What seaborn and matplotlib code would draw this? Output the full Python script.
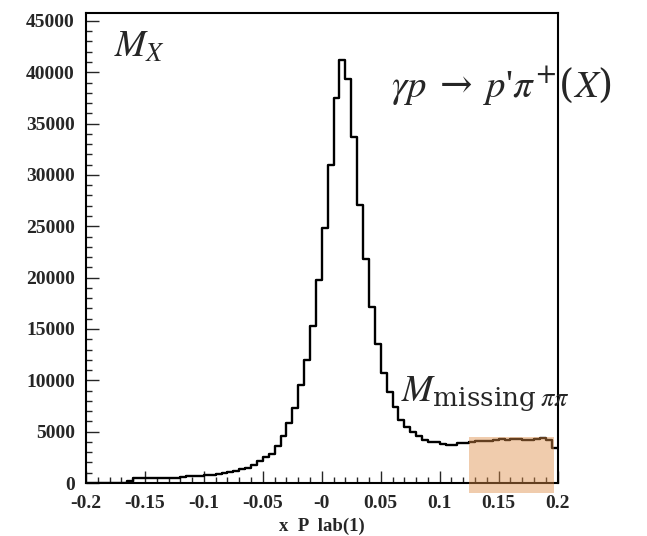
import numpy as np
import pandas as pd
import matplotlib
matplotlib.use("Agg")
import matplotlib.pyplot as plt
from matplotlib.ticker import FixedLocator, FixedFormatter, MultipleLocator
from matplotlib.patches import Rectangle
import seaborn as sns

# ---- data -------------------------------------------------------------
bin_width = 0.005
x_range = (-0.2, 0.2)
counts = [
    0, 0, 0, 0, 0, 0, 0, 150,
    470, 490, 500, 500, 510, 510, 520, 530, 540,
    640, 660, 730, 760, 790, 900, 940,
    1040, 1170, 1320, 1420, 1800, 2130, 2500, 2800,
    3640, 4610, 5850, 7280, 9540, 11950, 15320, 19800,
    24800, 31000, 37500, 41240, 39330, 33700, 27050, 21780,
    17130, 13520, 10690, 8900, 7380, 6140, 5490, 4940,
    4580, 4190, 3970, 3950, 3830, 3730, 3720, 3930,
    3940, 4000, 4050, 4070, 4130, 4140, 4260, 4200,
    4290, 4290, 4200, 4210, 4290, 4400, 4190, 3400,
]
x_ticks = [-0.2, -0.15, -0.1, -0.05, 0.0, 0.05, 0.1, 0.15, 0.2]
x_tick_labels = ["-0.2", "-0.15", "-0.1", "-0.05", "-0", "0.05", "0.1", "0.15", "0.2"]
y_ticks = [0, 5000, 10000, 15000, 20000, 25000, 30000, 35000, 40000, 45000]
y_tick_labels = [str(v) for v in y_ticks]
x_label = "x  P  lab(1)"
highlight_x = [0.125, 0.197]
highlight_y = [-1000, 4450]

n_bins = len(counts)
centers = x_range[0] + bin_width * (np.arange(n_bins) + 0.5)
df = pd.DataFrame({"x": centers, "w": np.asarray(counts, dtype=float)})

# ---- style ------------------------------------------------------------
sns.set_style("ticks")
plt.rcParams["mathtext.fontset"] = "custom"
plt.rcParams["mathtext.rm"] = "DejaVu Serif"
plt.rcParams["mathtext.it"] = "STIXGeneral:italic"
plt.rcParams["mathtext.bf"] = "STIXGeneral:bold"
plt.rcParams["mathtext.fallback"] = "stix"
plt.rcParams["font.family"] = ["Liberation Serif", "DejaVu Serif"]

fig = plt.figure(figsize=(6.47, 5.36), dpi=100)
ax = fig.add_axes([86 / 647, 1 - 483 / 536, (557.6 - 86) / 647, (483 - 12.7) / 536])

sns.histplot(data=df, x="x", weights="w", binwidth=bin_width, binrange=x_range,
             element="step", fill=False, color="black", linewidth=1.7, ax=ax)

ax.set_xlim(-0.2, 0.2)
ax.set_ylim(0, 45800)

ax.xaxis.set_major_locator(FixedLocator(x_ticks))
ax.xaxis.set_major_formatter(FixedFormatter(x_tick_labels))
ax.xaxis.set_minor_locator(MultipleLocator(0.01))
ax.yaxis.set_major_locator(FixedLocator(y_ticks))
ax.yaxis.set_major_formatter(FixedFormatter(y_tick_labels))
ax.yaxis.set_minor_locator(MultipleLocator(1000))

ax.tick_params(which="both", direction="in", top=False, right=False, width=1.0)
ax.tick_params(which="major", length=9)
ax.tick_params(which="minor", length=4.5)
ax.tick_params(axis="y", pad=8)
ax.tick_params(axis="x", pad=9)
for lab in ax.get_xticklabels() + ax.get_yticklabels():
    lab.set_fontweight("bold")
    lab.set_fontsize(14)

for s in ax.spines.values():
    s.set_linewidth(1.5)
    s.set_color("black")

ax.set_ylabel("")
ax.set_xlabel(x_label, fontsize=13.5, fontweight="bold", va="baseline")
ax.xaxis.set_label_coords(0.5, (483 - 531) / (483 - 12.7))

# highlighted region
rect = Rectangle((highlight_x[0], highlight_y[0]),
                 highlight_x[1] - highlight_x[0], highlight_y[1] - highlight_y[0],
                 facecolor=(222 / 255, 142 / 255, 73 / 255), alpha=0.45,
                 edgecolor="none", clip_on=False, zorder=5)
ax.add_patch(rect)

# annotations
fig.text(114 / 647, 1 - 56.7 / 536, r"$M_X$", fontsize=27, va="baseline", ha="left")
fig.text(391 / 647, 1 - 98 / 536, r"$\gamma p \;\rightarrow\; p$'$\pi^{+}(X)$",
         fontsize=28, va="baseline", ha="left")
fig.text(401 / 647, 1 - 400 / 536, r"$M_{\mathrm{missing}\;\pi\pi}$",
         fontsize=27, va="baseline", ha="left")

fig.savefig("out.png", dpi=100)
